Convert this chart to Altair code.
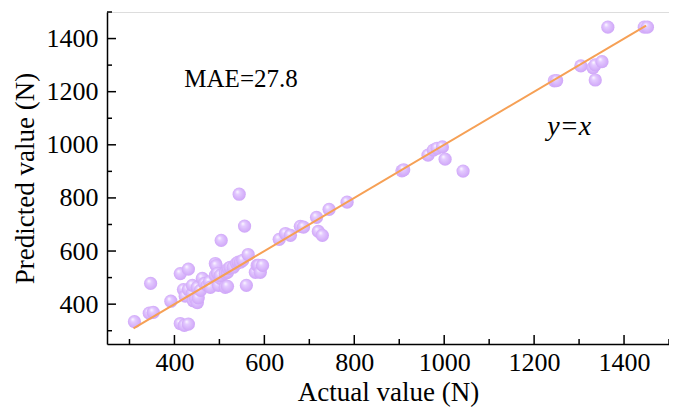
import altair as alt
import pandas as pd

# Data (Actual, Predicted)
actual = [311, 344, 353, 347, 392, 413, 422, 431, 413, 431,
          420, 424, 431, 440, 440, 442, 447, 451, 453, 451, 458, 462, 467, 473, 478, 480,
          491, 493, 491, 496, 498, 502, 502, 504, 513, 513, 518, 518, 520, 524, 531, 538, 542, 547, 552,
          544, 556, 560, 564, 580, 584, 587, 591, 596,
          633, 647, 658, 680, 687, 716, 720, 729, 744, 784,
          906, 910, 964, 976, 984, 996, 1002, 1042,
          1245, 1250, 1304, 1331, 1336, 1351, 1336, 1364, 1445, 1452]
predicted = [334, 366, 369, 478, 411, 327, 320, 325, 515, 532,
             455, 430, 455, 440, 471, 413, 420, 406, 424, 463, 452, 497, 478, 471, 484, 463,
             553, 545, 508, 516, 471, 497, 508, 640, 463, 516, 467, 520, 534, 539, 539, 553, 558, 558, 565,
             814, 694, 471, 587, 520, 546, 546, 520, 546,
             644, 666, 659, 693, 690, 727, 674, 659, 757, 784,
             902, 906, 961, 980, 987, 992, 946, 901,
             1241, 1242, 1297, 1290, 1301, 1313, 1244, 1443, 1443, 1443]

line_x = [309, 1449]
line_y = [309, 1449]

x_major = [400, 600, 800, 1000, 1200, 1400]
x_minor = [300, 500, 700, 900, 1100, 1300, 1500]
y_major = [400, 600, 800, 1000, 1200, 1400]
y_minor = [300, 500, 700, 900, 1100, 1300, 1500]

ann_text = ["MAE=27.8"]
ann_x = [422]
ann_y = [1248]
eq_text = ["y=x"]
eq_x = [1278]
eq_y = [1067]

W, H = 562, 332
FONT = "Liberation Serif"

pts = pd.DataFrame({"actual": actual, "predicted": predicted})
line_df = pd.DataFrame({"actual": line_x, "predicted": line_y})

xs = alt.Scale(domain=[250, 1500], nice=False, zero=False)
ys = alt.Scale(domain=[250, 1500], nice=False, zero=False)

xaxis = alt.Axis(values=x_major, format="d", ticks=False, grid=False, domainColor="black", domainWidth=1.5,
                 labelFont=FONT, labelFontSize=26, labelColor="black", labelPadding=5,
                 title="Actual value (N)", titleFont=FONT, titleFontSize=27, titleFontWeight="normal",
                 titleColor="black", titlePadding=4)
yaxis = alt.Axis(values=y_major, format="d", ticks=False, grid=False, domainColor="black", domainWidth=1.5,
                 labelFont=FONT, labelFontSize=26, labelColor="black", labelPadding=9,
                 title="Predicted value (N)", titleFont=FONT, titleFontSize=27, titleFontWeight="normal",
                 titleColor="black", titlePadding=7)

grad = alt.RadialGradient(
    gradient="radial",
    x1=0.35, y1=0.3, r1=0.0,
    x2=0.5, y2=0.5, r2=0.55,
    stops=[alt.GradientStop(offset=0, color="#ffffff"),
           alt.GradientStop(offset=0.3, color="#e4cbff"),
           alt.GradientStop(offset=1, color="#cda2f7")],
)

points = alt.Chart(pts).mark_circle(size=175, fill=grad, opacity=1, strokeWidth=0).encode(
    x=alt.X("actual:Q", scale=xs, axis=xaxis),
    y=alt.Y("predicted:Q", scale=ys, axis=yaxis),
)

line = alt.Chart(line_df).mark_line(color="#f6a055", strokeWidth=2).encode(
    x=alt.X("actual:Q", scale=xs),
    y=alt.Y("predicted:Q", scale=ys),
)

xmaj = alt.Chart(pd.DataFrame({"v": x_major})).mark_rule(color="black", strokeWidth=1.5).encode(
    x=alt.X("v:Q", scale=xs), y=alt.value(H), y2=alt.value(H - 9))
xmin = alt.Chart(pd.DataFrame({"v": x_minor})).mark_rule(color="black", strokeWidth=1.5).encode(
    x=alt.X("v:Q", scale=xs), y=alt.value(H), y2=alt.value(H - 5))
ymaj = alt.Chart(pd.DataFrame({"v": y_major})).mark_rule(color="black", strokeWidth=1.5).encode(
    y=alt.Y("v:Q", scale=ys), x=alt.value(0), x2=alt.value(9))
ymin = alt.Chart(pd.DataFrame({"v": y_minor})).mark_rule(color="black", strokeWidth=1.5).encode(
    y=alt.Y("v:Q", scale=ys), x=alt.value(0), x2=alt.value(5))

mae = alt.Chart(pd.DataFrame({"t": ann_text, "x": ann_x, "y": ann_y})).mark_text(
    font=FONT, fontSize=25, align="left", baseline="middle", color="black").encode(
    x=alt.X("x:Q", scale=xs), y=alt.Y("y:Q", scale=ys), text="t:N")
eq = alt.Chart(pd.DataFrame({"t": eq_text, "x": eq_x, "y": eq_y})).mark_text(
    font=FONT, fontSize=28, fontStyle="italic", align="center", baseline="middle", color="black").encode(
    x=alt.X("x:Q", scale=xs), y=alt.Y("y:Q", scale=ys), text="t:N")

chart = alt.layer(points, line, xmaj, xmin, ymaj, ymin, mae, eq).properties(
    width=W, height=H,
    autosize=alt.AutoSizeParams(type="none"),
    padding={"left": 99, "top": 4, "right": 0, "bottom": 72},
).configure_view(stroke=None).configure(background="white")

chart.save("out.html", embed_options={"renderer": "svg", "actions": False})
